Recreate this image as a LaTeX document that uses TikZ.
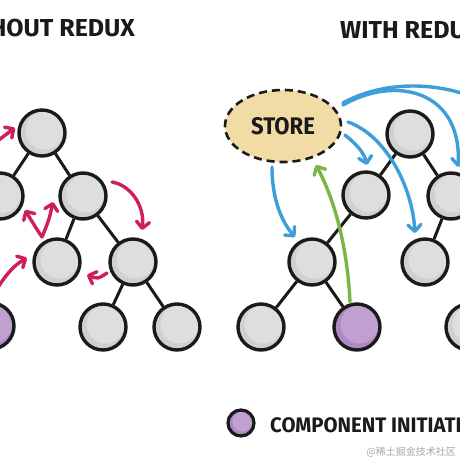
\documentclass[tikz,border=0pt]{standalone}
\usepackage{fontspec}
\setmainfont{Fira Sans}
\newfontfamily\hand[FakeStretch=0.92]{Fira Sans}
\newfontfamily\handT[FakeStretch=1.02]{Fira Sans}
\newfontfamily\handL[FakeStretch=0.97]{Fira Sans}
\newfontfamily\cjk{Noto Sans CJK SC}
\usetikzlibrary{arrows.meta,calc,shapes.geometric}
\definecolor{ngray}{HTML}{D0D0D0}
\definecolor{nlight}{HTML}{DEDEDE}
\definecolor{npurple}{HTML}{AE88C0}
\definecolor{plight}{HTML}{C0A0D0}
\definecolor{rcol}{HTML}{CF1F56}
\definecolor{bcol}{HTML}{3E9ED9}
\definecolor{gcol}{HTML}{7DB545}
\definecolor{storefill}{HTML}{F2DCA6}
\definecolor{ink}{HTML}{1A1A1A}
\begin{document}
\begin{tikzpicture}[x=1pt,y=-1pt,
  tn/.style={circle, minimum size=46pt, inner sep=0pt, draw=ink, line width=3.4pt, fill=ngray,
    path picture={\fill[nlight] ([xshift=2.5pt,yshift=2.5pt]path picture bounding box.center) circle (19pt);}},
  pn/.style={tn, fill=npurple,
    path picture={\fill[plight] ([xshift=2.5pt,yshift=2.5pt]path picture bounding box.center) circle (19pt);}},
  legendnode/.style={circle, minimum size=26pt, inner sep=0pt, draw=ink, line width=3.2pt, fill=npurple,
    path picture={\fill[plight] ([xshift=1.5pt,yshift=1.5pt]path picture bounding box.center) circle (10pt);}},
  treeedge/.style={line width=3pt, draw=ink},
  arr/.style={line width=3.4pt, line cap=round, line join=round,
    -{Straight Barb[length=6.5pt,width=13pt,line cap=round,line join=round]}},
  rarr/.style={arr, draw=rcol},
  barr/.style={arr, draw=bcol},
  garr/.style={arr, draw=gcol},
  storebox/.style={ellipse, minimum width=116pt, minimum height=72pt, inner sep=0pt, fill=storefill,
    draw=ink, line width=2.6pt, dash pattern=on 8pt off 5pt},
  title/.style={font=\handT\bfseries\fontsize{24.5}{24.5}\selectfont, text=ink, inner sep=0pt},
  legendtext/.style={font=\handL\bfseries\fontsize{21}{21}\selectfont, text=ink, inner sep=0pt},
  wmark/.style={font=\cjk\fontsize{10}{10}\selectfont, text=black!35, inner sep=0pt}
]
\useasboundingbox (0,0) rectangle (460,460);
\begin{scope}
\clip (0,0) rectangle (460,460);
\fill[white] (0,0) rectangle (460,460);

% titles
\node[title, anchor=base east] (t1) at (135,37) {WITHOUT REDUX};
\node[title, anchor=base west] (t2) at (340,38) {WITH REDUX};

% left tree
\node[tn] (A) at (42,133) {};
\node[tn] (B) at (0,196) {};
\node[tn] (C) at (83,196) {};
\node[tn] (D) at (57,262) {};
\node[tn] (E) at (133,262) {};
\node[tn] (F) at (103,327) {};
\node[tn] (G) at (177,327) {};
\node[pn] (H) at (-9,326) {};
\draw[treeedge] (A) -- (B);
\draw[treeedge] (A) -- (C);
\draw[treeedge] (C) -- (D);
\draw[treeedge] (C) -- (E);
\draw[treeedge] (E) -- (F);
\draw[treeedge] (E) -- (G);

% right tree
\node[tn] (R1) at (410,134) {};
\node[tn] (R2) at (366,195) {};
\node[tn] (R3) at (451,196) {};
\node[tn] (R4) at (425,262) {};
\node[tn] (R5) at (312,262) {};
\node[tn] (R6) at (261,327) {};
\node[pn] (R7) at (357,327) {};
\node[tn] (R8) at (469,327) {};
\draw[treeedge] (R1) -- (R2);
\draw[treeedge] (R1) -- (R3);
\draw[treeedge] (R2) -- (R5);
\draw[treeedge] (R3) -- (R4);
\draw[treeedge] (R5) -- (R6);
\draw[treeedge] (R5) -- (R7);

% store
\node[storebox, font=\hand\bfseries\fontsize{24}{24}\selectfont, text=ink] (S) at (283,126) {STORE};

% red arrows (left)
\coordinate (r1s) at (-12,148);
\draw[rarr] (r1s) .. controls (0,138) .. ($(A)+(-27,-5)$);
\draw[rarr] ($(C)+(29,-14)$) .. controls (130,185) and (145,205) .. ($(E)+(9,-32)$);
\draw[rarr] ($(D)+(-15,-25)$) .. controls (36,228) .. ($(B)+(25,14)$);
\draw[rarr] ($(D)+(-15,-25)$) .. controls (49,220) .. ($(C)+(-30,6)$);
\draw[rarr] ($(H)+(0,-26)$) .. controls (0,282) and (12,266) .. ($(D)+(-30,-4)$);
\draw[rarr] ($(E)+(-26,11)$) .. controls (98,279) .. ($(D)+(30,13)$);

% blue arrows (right)
\coordinate (b5e) at (490,105);
\draw[barr] ($(S)+(-11,41)$) .. controls (272,200) and (282,222) .. ($(R5)+(-17,-25)$);
\draw[barr] ($(S)+(62,9)$) .. controls (355,143) and (364,152) .. ($(R2)+(1,-30)$);
\draw[barr] ($(S)+(65,-4)$) .. controls (385,135) and (412,185) .. ($(R4)+(-10,-29)$);
\draw[barr] ($(S)+(60,-21)$) .. controls (395,75) and (462,90) .. ($(R3)+(7,-29)$);
\draw[line width=3.4pt, line cap=round, draw=bcol] ($(S)+(60,-23)$) .. controls (380,82) and (440,78) .. (b5e);

% green arrow
\draw[garr] ($(R7)+(-7,-25)$) .. controls (347,240) and (332,195) .. ($(S)+(33,39)$);

% legend
\node[legendnode] (L) at (241,423) {};
\node[legendtext, anchor=base west] (Lt) at (270,432) {COMPONENT INITIATING CHANGE};
\node[wmark, anchor=east] (wm) at (456,452) {@稀土掘金技术社区};
\end{scope}
\end{tikzpicture}
\end{document}
